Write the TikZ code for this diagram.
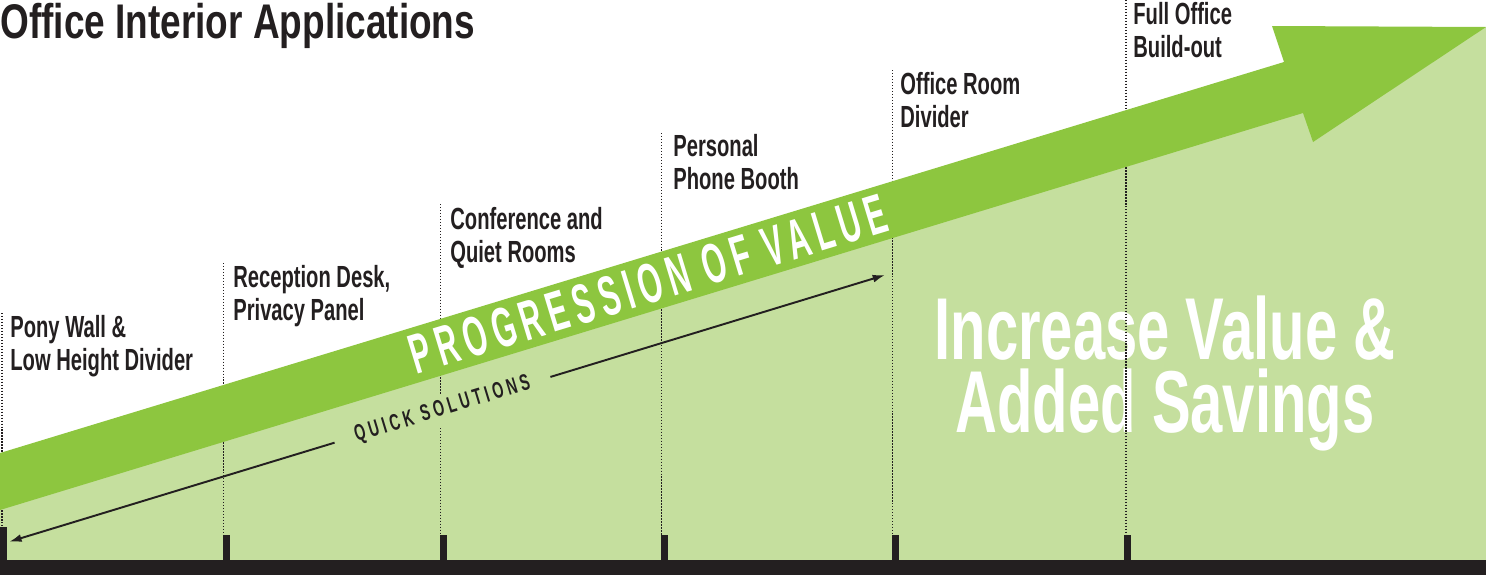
\documentclass[tikz,border=0pt]{standalone}
\usepackage{fontspec}
\usepackage{xcolor}
\usetikzlibrary{arrows.meta,positioning}
\newfontfamily\dinfont{Liberation Sans}[FakeStretch=0.66]
\newfontfamily\dintitle{Liberation Sans}[FakeStretch=0.76]
\newfontfamily\dinwide{Liberation Sans}[FakeStretch=0.54,LetterSpace=11.5]
\newfontfamily\dinsmall{Liberation Sans}[FakeStretch=0.62,LetterSpace=17]
\definecolor{apgreen}{RGB}{141,198,63}
\definecolor{aplight}{RGB}{197,223,158}
\definecolor{apblack}{RGB}{35,31,32}
\tikzset{
    stage/.style={
        anchor=north west,inner sep=0pt,align=left,text=apblack,
        font=\dinfont\bfseries\fontsize{17.4}{19}\selectfont
    },
    guide/.style={
        draw=apblack,line width=0.8pt,dash pattern=on 0.8pt off 0.9pt
    },
    tickbar/.style={fill=apblack},
    measure/.style={
        -{Latex[length=7pt,width=4.5pt]},line width=1.1pt,draw=apblack
    }
}

\begin{document}
\begin{tikzpicture}[x=0.02cm,y=-0.02cm]
\useasboundingbox (0,0) rectangle (1486,575);

% light field under the arrow
\fill[aplight] (0,490) -- (1486,27) -- (1486,560) -- (0,560) -- cycle;

\node[
anchor=north,inner sep=0pt,align=center,text=white,
font=\dinfont\bfseries\fontsize{50}{41.6}\selectfont
](savings) at (1165,295)
{Increase Value \&\\Added Savings};

% dotted guides
\foreach \x/\y in {2/313,223.5/263,440.5/204,661.5/133,892.5/70,1126/0}
    \draw[guide] (\x,\y) -- (\x,535);

\coordinate (qsleft) at (9.3,541.7);
\coordinate (qsright) at (885,275);

\node[
rotate=16.94,fill=aplight,inner sep=0pt,minimum width=4.5cm,minimum height=0.6cm,
text=apblack,font=\dinsmall\bfseries\fontsize{13}{13}\selectfont
](quick) at (442.5,409.8) {QUICK SOLUTIONS};

\draw[measure](quick)--(qsleft);
\draw[measure](quick)--(qsright);

% big arrow
\fill[apgreen] (0,453) -- (1284,62) -- (1272,26) -- (1486,27)
    -- (1313,142) -- (1303,113) -- (0,510) -- cycle;

\node[
rotate=16.94,inner sep=0pt,text=white,
font=\dinwide\bfseries\fontsize{32}{32}\selectfont
](progress) at (648,284) {PROGRESSION OF VALUE};

% base line and ticks
\fill[apblack] (0,560) rectangle (1486,575);
\fill[tickbar] (0,527) rectangle (7,560);
\foreach \x in {223,440,661,892,1124}
    \fill[tickbar] (\x,535) rectangle (\x+7,560);

\node[
anchor=base west,inner sep=0pt,text=apblack,
font=\dintitle\bfseries\fontsize{27.7}{30}\selectfont
](title) at (0,38) {Office Interior Applications};

\node[stage](pony) at (10,315) {Pony Wall \&\\Low Height Divider};
\node[stage](reception) at (233,265) {Reception Desk,\\Privacy Panel};
\node[stage](conference) at (450,207) {Conference and\\Quiet Rooms};
\node[stage](booth) at (673,134) {Personal\\Phone Booth};
\node[stage](divider) at (900,72) {Office Room\\Divider};
\node[stage](buildout) at (1133,2) {Full Office\\Build-out};

\end{tikzpicture}
\end{document}
